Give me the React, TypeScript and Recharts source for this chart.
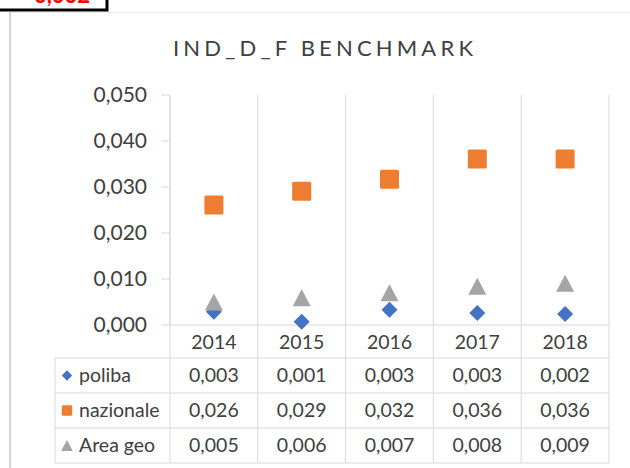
import { CartesianGrid, ComposedChart, Scatter, XAxis, YAxis } from 'recharts'

const years = ['2014', '2015', '2016', '2017', '2018']
const poliba = [0.0029, 0.0007, 0.0033, 0.0026, 0.0024]
const nazionale = [0.0261, 0.0291, 0.0317, 0.0361, 0.0361]
const areaGeo = [0.005, 0.0059, 0.007, 0.0084, 0.0091]
const yTicks = [0, 0.01, 0.02, 0.03, 0.04, 0.05]

const series = [
  { key: 'poliba', name: 'poliba', values: poliba, color: '#4472c4', kind: 'diamond' },
  { key: 'nazionale', name: 'nazionale', values: nazionale, color: '#ed7d31', kind: 'square' },
  { key: 'areaGeo', name: 'Area geo', values: areaGeo, color: '#a5a5a5', kind: 'triangle' },
]

const data = years.map((year, i) => ({
  year,
  poliba: poliba[i],
  nazionale: nazionale[i],
  areaGeo: areaGeo[i],
}))

const W = 630
const H = 468
const PLOT_LEFT = 170
const PLOT_RIGHT = 609
const AXIS_Y = 325
const ROW_TOP = 358
const ROW_H = 35
const TABLE_LEFT = 55
const TABLE_BOTTOM = ROW_TOP + ROW_H * 3
const GRID = '#d9d9d9'
const TEXT = '#404040'
const FONT = 'Lato, "Open Sans", sans-serif'
const TABLE_FONT = 19.5

const fmt = (v: number) => v.toFixed(3).replace('.', ',')

function Marker({ cx, cy, kind, color, s = 1 }: any) {
  if (kind === 'diamond') {
    const r = 8 * s
    return <path d={`M${cx},${cy - r}L${cx + r},${cy}L${cx},${cy + r}L${cx - r},${cy}Z`} fill={color} />
  }
  if (kind === 'square') {
    const r = 9.5 * s
    return <rect x={cx - r} y={cy - r} width={r * 2} height={r * 2} rx={1.5} fill={color} />
  }
  const h = 8.5 * s
  const w = 9 * s
  return <path d={`M${cx},${cy - h}L${cx + w},${cy + h}L${cx - w},${cy + h}Z`} fill={color} />
}

// the data table under the x axis, drawn column by column from the ticks
function TableTick(props: any) {
  const { x, index, payload } = props
  const band = (PLOT_RIGHT - PLOT_LEFT) / years.length
  const right = x + band / 2
  return (
    <g fontFamily={FONT} fill={TEXT}>
      {index === 0 && (
        <g>
          <line x1={x - band / 2} x2={x - band / 2} y1={AXIS_Y} y2={TABLE_BOTTOM} stroke={GRID} />
          <line x1={TABLE_LEFT} x2={TABLE_LEFT} y1={ROW_TOP} y2={TABLE_BOTTOM} stroke={GRID} />
          {[0, 1, 2, 3].map((r) => (
            <line key={r} x1={TABLE_LEFT} x2={PLOT_RIGHT} y1={ROW_TOP + ROW_H * r} y2={ROW_TOP + ROW_H * r} stroke={GRID} />
          ))}
          {series.map((s, r) => {
            const cy = ROW_TOP + ROW_H * r + ROW_H / 2
            return (
              <g key={s.key}>
                <Marker cx={67} cy={cy} kind={s.kind} color={s.color} s={s.kind === 'square' ? 0.55 : 0.65} />
                <text x={79} y={cy} dy="0.35em" fontSize={TABLE_FONT} fill={TEXT}>
                  {s.name}
                </text>
              </g>
            )
          })}
        </g>
      )}
      <line x1={right} x2={right} y1={AXIS_Y} y2={TABLE_BOTTOM} stroke={GRID} />
      <text x={x} y={AXIS_Y + 17} dy="0.35em" textAnchor="middle" fontSize={TABLE_FONT} fill={TEXT}>
        {payload.value}
      </text>
      {series.map((s, r) => (
        <text
          key={s.key}
          x={x}
          y={ROW_TOP + ROW_H * r + ROW_H / 2}
          dy="0.35em"
          textAnchor="middle"
          fontSize={TABLE_FONT}
          fill={TEXT}
        >
          {fmt(s.values[index])}
        </text>
      ))}
    </g>
  )
}

export default function App() {
  return (
    <div style={{ position: 'absolute', left: 0, top: 0, width: W, height: H, background: '#fff', overflow: 'hidden' }}>
      <ComposedChart width={W} height={H} data={data} margin={{ top: 95, right: W - PLOT_RIGHT, bottom: 113, left: 90 }}>
        <CartesianGrid
          horizontal={false}
          stroke={GRID}
          verticalCoordinatesGenerator={({ offset }: any) =>
            years.map((_, i) => offset.left + (i * offset.width) / years.length).concat(offset.left + offset.width)
          }
        />
        <XAxis
          dataKey="year"
          type="category"
          scale="band"
          height={30}
          interval={0}
          axisLine={{ stroke: GRID }}
          tickLine={false}
          tick={(p: any) => <TableTick {...p} />}
        />
        <YAxis
          width={80}
          domain={[0, 0.05]}
          ticks={yTicks}
          tickFormatter={fmt}
          axisLine={{ stroke: GRID }}
          tickLine={{ stroke: GRID }}
          tickSize={9}
          tickMargin={14}
          tick={{ fontSize: 21, fill: TEXT, fontFamily: FONT }}
        />
        {series.map((s) => (
          <Scatter
            key={s.key}
            name={s.name}
            dataKey={s.key}
            isAnimationActive={false}
            shape={(p: any) => <Marker cx={p.cx} cy={p.cy} kind={s.kind} color={s.color} />}
          />
        ))}
      </ComposedChart>
      <svg width={W} height={H} style={{ position: 'absolute', left: 0, top: 0, pointerEvents: 'none' }}>
        <line x1={10} x2={10} y1={12} y2={H} stroke="#d4d4d4" strokeWidth={2} />
        <line x1={11} x2={W} y1={12.5} y2={12.5} stroke="#ececec" />
        <rect x={-3} y={-20} width={110} height={30} fill="#fff" stroke="#000" strokeWidth={3} />
        <text x={62} y={3} textAnchor="middle" fontFamily={FONT} fontWeight="bold" fontSize={22} fill="#ff0000">
          0,002
        </text>
        <text
          x={323}
          y={56}
          textAnchor="middle"
          fontFamily={FONT}
          fontSize={22}
          fill="#404040"
          textLength={300}
          lengthAdjust="spacing"
        >
          IND_D_F BENCHMARK
        </text>
      </svg>
    </div>
  )
}
